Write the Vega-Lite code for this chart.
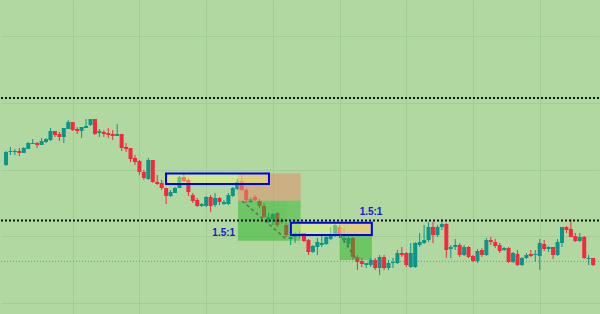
{
  "$schema": "https://vega.github.io/schema/vega-lite/v6.json",
  "width": 600,
  "height": 314,
  "autosize": {"type": "fit", "contains": "padding"},
  "padding": 0,
  "background": "#b0d8a0",
  "config": {"view": {"stroke": null, "fill": "#b0d8a0"}},
  "datasets": {
    "candles": [
      {"i":0,"o":1.08514,"h":1.08556,"l":1.08511,"c":1.08553},
      {"i":1,"o":1.08553,"h":1.08568,"l":1.08544,"c":1.08556},
      {"i":2,"o":1.08553,"h":1.08562,"l":1.08544,"c":1.08556},
      {"i":3,"o":1.08556,"h":1.08565,"l":1.08541,"c":1.08550},
      {"i":4,"o":1.08550,"h":1.08568,"l":1.08550,"c":1.08565},
      {"i":5,"o":1.08562,"h":1.08583,"l":1.08562,"c":1.08580},
      {"i":6,"o":1.08577,"h":1.08592,"l":1.08577,"c":1.08580},
      {"i":7,"o":1.08580,"h":1.08583,"l":1.08565,"c":1.08574},
      {"i":8,"o":1.08574,"h":1.08595,"l":1.08574,"c":1.08586},
      {"i":9,"o":1.08583,"h":1.08595,"l":1.08580,"c":1.08592},
      {"i":10,"o":1.08589,"h":1.08625,"l":1.08586,"c":1.08616},
      {"i":11,"o":1.08616,"h":1.08616,"l":1.08598,"c":1.08604},
      {"i":12,"o":1.08607,"h":1.08613,"l":1.08586,"c":1.08598},
      {"i":13,"o":1.08598,"h":1.08625,"l":1.08580,"c":1.08625},
      {"i":14,"o":1.08622,"h":1.08649,"l":1.08622,"c":1.08643},
      {"i":15,"o":1.08643,"h":1.08643,"l":1.08616,"c":1.08619},
      {"i":16,"o":1.08622,"h":1.08628,"l":1.08607,"c":1.08616},
      {"i":17,"o":1.08616,"h":1.08628,"l":1.08595,"c":1.08628},
      {"i":18,"o":1.08625,"h":1.08652,"l":1.08625,"c":1.08631},
      {"i":19,"o":1.08634,"h":1.08652,"l":1.08631,"c":1.08652},
      {"i":20,"o":1.08652,"h":1.08652,"l":1.08604,"c":1.08607},
      {"i":21,"o":1.08610,"h":1.08622,"l":1.08598,"c":1.08616},
      {"i":22,"o":1.08613,"h":1.08619,"l":1.08598,"c":1.08607},
      {"i":23,"o":1.08610,"h":1.08625,"l":1.08595,"c":1.08604},
      {"i":24,"o":1.08607,"h":1.08619,"l":1.08589,"c":1.08601},
      {"i":25,"o":1.08601,"h":1.08637,"l":1.08601,"c":1.08607},
      {"i":26,"o":1.08607,"h":1.08607,"l":1.08556,"c":1.08565},
      {"i":27,"o":1.08568,"h":1.08580,"l":1.08553,"c":1.08562},
      {"i":28,"o":1.08565,"h":1.08565,"l":1.08523,"c":1.08532},
      {"i":29,"o":1.08535,"h":1.08544,"l":1.08514,"c":1.08523},
      {"i":30,"o":1.08526,"h":1.08529,"l":1.08484,"c":1.08493},
      {"i":31,"o":1.08493,"h":1.08499,"l":1.08469,"c":1.08475},
      {"i":32,"o":1.08472,"h":1.08535,"l":1.08469,"c":1.08529},
      {"i":33,"o":1.08529,"h":1.08529,"l":1.08460,"c":1.08463},
      {"i":34,"o":1.08463,"h":1.08484,"l":1.08454,"c":1.08457},
      {"i":35,"o":1.08460,"h":1.08469,"l":1.08439,"c":1.08445},
      {"i":36,"o":1.08445,"h":1.08445,"l":1.08397,"c":1.08421},
      {"i":37,"o":1.08421,"h":1.08439,"l":1.08418,"c":1.08433},
      {"i":38,"o":1.08430,"h":1.08448,"l":1.08430,"c":1.08445},
      {"i":39,"o":1.08445,"h":1.08481,"l":1.08445,"c":1.08478},
      {"i":40,"o":1.08478,"h":1.08487,"l":1.08463,"c":1.08466},
      {"i":41,"o":1.08469,"h":1.08475,"l":1.08421,"c":1.08433},
      {"i":42,"o":1.08424,"h":1.08430,"l":1.08400,"c":1.08406},
      {"i":43,"o":1.08409,"h":1.08415,"l":1.08388,"c":1.08391},
      {"i":44,"o":1.08391,"h":1.08400,"l":1.08388,"c":1.08397},
      {"i":45,"o":1.08391,"h":1.08421,"l":1.08388,"c":1.08418},
      {"i":46,"o":1.08418,"h":1.08424,"l":1.08373,"c":1.08391},
      {"i":47,"o":1.08394,"h":1.08430,"l":1.08388,"c":1.08415},
      {"i":48,"o":1.08415,"h":1.08418,"l":1.08394,"c":1.08403},
      {"i":49,"o":1.08397,"h":1.08409,"l":1.08394,"c":1.08403},
      {"i":50,"o":1.08397,"h":1.08430,"l":1.08394,"c":1.08424},
      {"i":51,"o":1.08421,"h":1.08448,"l":1.08418,"c":1.08445},
      {"i":52,"o":1.08442,"h":1.08472,"l":1.08439,"c":1.08463},
      {"i":53,"o":1.08466,"h":1.08484,"l":1.08436,"c":1.08439},
      {"i":54,"o":1.08439,"h":1.08445,"l":1.08400,"c":1.08409},
      {"i":55,"o":1.08403,"h":1.08418,"l":1.08400,"c":1.08412},
      {"i":56,"o":1.08418,"h":1.08424,"l":1.08406,"c":1.08409},
      {"i":57,"o":1.08406,"h":1.08412,"l":1.08385,"c":1.08391},
      {"i":58,"o":1.08391,"h":1.08400,"l":1.08355,"c":1.08358},
      {"i":59,"o":1.08343,"h":1.08370,"l":1.08340,"c":1.08358},
      {"i":60,"o":1.08352,"h":1.08370,"l":1.08334,"c":1.08367},
      {"i":61,"o":1.08370,"h":1.08373,"l":1.08328,"c":1.08334},
      {"i":62,"o":1.08343,"h":1.08355,"l":1.08337,"c":1.08349},
      {"i":63,"o":1.08334,"h":1.08340,"l":1.08298,"c":1.08304},
      {"i":64,"o":1.08292,"h":1.08310,"l":1.08274,"c":1.08298},
      {"i":65,"o":1.08298,"h":1.08313,"l":1.08280,"c":1.08310},
      {"i":66,"o":1.08304,"h":1.08319,"l":1.08295,"c":1.08310},
      {"i":67,"o":1.08310,"h":1.08310,"l":1.08283,"c":1.08286},
      {"i":68,"o":1.08289,"h":1.08292,"l":1.08244,"c":1.08253},
      {"i":69,"o":1.08253,"h":1.08274,"l":1.08250,"c":1.08271},
      {"i":70,"o":1.08268,"h":1.08295,"l":1.08244,"c":1.08283},
      {"i":71,"o":1.08274,"h":1.08304,"l":1.08268,"c":1.08280},
      {"i":72,"o":1.08277,"h":1.08301,"l":1.08274,"c":1.08298},
      {"i":73,"o":1.08292,"h":1.08328,"l":1.08289,"c":1.08307},
      {"i":74,"o":1.08304,"h":1.08340,"l":1.08298,"c":1.08334},
      {"i":75,"o":1.08328,"h":1.08334,"l":1.08295,"c":1.08301},
      {"i":76,"o":1.08289,"h":1.08325,"l":1.08280,"c":1.08295},
      {"i":77,"o":1.08277,"h":1.08310,"l":1.08268,"c":1.08295},
      {"i":78,"o":1.08295,"h":1.08298,"l":1.08229,"c":1.08238},
      {"i":79,"o":1.08238,"h":1.08244,"l":1.08199,"c":1.08223},
      {"i":80,"o":1.08226,"h":1.08235,"l":1.08208,"c":1.08217},
      {"i":81,"o":1.08214,"h":1.08220,"l":1.08205,"c":1.08220},
      {"i":82,"o":1.08214,"h":1.08235,"l":1.08208,"c":1.08229},
      {"i":83,"o":1.08229,"h":1.08235,"l":1.08199,"c":1.08205},
      {"i":84,"o":1.08205,"h":1.08244,"l":1.08184,"c":1.08238},
      {"i":85,"o":1.08238,"h":1.08244,"l":1.08199,"c":1.08205},
      {"i":86,"o":1.08205,"h":1.08229,"l":1.08199,"c":1.08220},
      {"i":87,"o":1.08220,"h":1.08235,"l":1.08205,"c":1.08223},
      {"i":88,"o":1.08220,"h":1.08259,"l":1.08217,"c":1.08250},
      {"i":89,"o":1.08250,"h":1.08268,"l":1.08238,"c":1.08244},
      {"i":90,"o":1.08250,"h":1.08253,"l":1.08208,"c":1.08214},
      {"i":91,"o":1.08208,"h":1.08280,"l":1.08205,"c":1.08250},
      {"i":92,"o":1.08208,"h":1.08283,"l":1.08205,"c":1.08280},
      {"i":93,"o":1.08274,"h":1.08310,"l":1.08268,"c":1.08283},
      {"i":94,"o":1.08280,"h":1.08334,"l":1.08277,"c":1.08289},
      {"i":95,"o":1.08289,"h":1.08343,"l":1.08283,"c":1.08328},
      {"i":96,"o":1.08328,"h":1.08343,"l":1.08280,"c":1.08304},
      {"i":97,"o":1.08304,"h":1.08334,"l":1.08298,"c":1.08328},
      {"i":98,"o":1.08328,"h":1.08352,"l":1.08319,"c":1.08337},
      {"i":99,"o":1.08337,"h":1.08340,"l":1.08235,"c":1.08259},
      {"i":100,"o":1.08262,"h":1.08274,"l":1.08235,"c":1.08268},
      {"i":101,"o":1.08268,"h":1.08292,"l":1.08259,"c":1.08274},
      {"i":102,"o":1.08274,"h":1.08280,"l":1.08238,"c":1.08244},
      {"i":103,"o":1.08244,"h":1.08274,"l":1.08241,"c":1.08268},
      {"i":104,"o":1.08268,"h":1.08271,"l":1.08235,"c":1.08238},
      {"i":105,"o":1.08241,"h":1.08244,"l":1.08223,"c":1.08226},
      {"i":106,"o":1.08226,"h":1.08262,"l":1.08220,"c":1.08256},
      {"i":107,"o":1.08259,"h":1.08265,"l":1.08238,"c":1.08244},
      {"i":108,"o":1.08244,"h":1.08295,"l":1.08241,"c":1.08289},
      {"i":109,"o":1.08289,"h":1.08298,"l":1.08274,"c":1.08283},
      {"i":110,"o":1.08283,"h":1.08292,"l":1.08265,"c":1.08271},
      {"i":111,"o":1.08274,"h":1.08280,"l":1.08250,"c":1.08256},
      {"i":112,"o":1.08259,"h":1.08268,"l":1.08256,"c":1.08265},
      {"i":113,"o":1.08265,"h":1.08268,"l":1.08220,"c":1.08223},
      {"i":114,"o":1.08223,"h":1.08253,"l":1.08220,"c":1.08250},
      {"i":115,"o":1.08247,"h":1.08259,"l":1.08211,"c":1.08214},
      {"i":116,"o":1.08214,"h":1.08238,"l":1.08211,"c":1.08235},
      {"i":117,"o":1.08235,"h":1.08250,"l":1.08232,"c":1.08244},
      {"i":118,"o":1.08247,"h":1.08259,"l":1.08238,"c":1.08241},
      {"i":119,"o":1.08244,"h":1.08259,"l":1.08223,"c":1.08247},
      {"i":120,"o":1.08241,"h":1.08292,"l":1.08199,"c":1.08280},
      {"i":121,"o":1.08277,"h":1.08289,"l":1.08256,"c":1.08262},
      {"i":122,"o":1.08262,"h":1.08271,"l":1.08253,"c":1.08268},
      {"i":123,"o":1.08268,"h":1.08268,"l":1.08232,"c":1.08244},
      {"i":124,"o":1.08244,"h":1.08292,"l":1.08241,"c":1.08283},
      {"i":125,"o":1.08280,"h":1.08328,"l":1.08268,"c":1.08328},
      {"i":126,"o":1.08328,"h":1.08331,"l":1.08310,"c":1.08319},
      {"i":127,"o":1.08322,"h":1.08352,"l":1.08298,"c":1.08298},
      {"i":128,"o":1.08301,"h":1.08310,"l":1.08283,"c":1.08286},
      {"i":129,"o":1.08286,"h":1.08310,"l":1.08283,"c":1.08298},
      {"i":130,"o":1.08298,"h":1.08301,"l":1.08232,"c":1.08235},
      {"i":131,"o":1.08232,"h":1.08244,"l":1.08214,"c":1.08235},
      {"i":132,"o":1.08235,"h":1.08235,"l":1.08211,"c":1.08214}
    ],
    "zones": [
      {"kind":"stop","x1":52.15,"x2":66.25,"y1":1.084885,"y2":1.084069},
      {"kind":"target hit","x1":52.15,"x2":63.17,"y1":1.084069,"y2":1.082869},
      {"kind":"target","x1":63.17,"x2":66.25,"y1":1.084069,"y2":1.082869},
      {"kind":"stop","x1":75.02,"x2":82.25,"y1":1.083409,"y2":1.08304},
      {"kind":"target hit","x1":75.02,"x2":82.25,"y1":1.08304,"y2":1.08229}
    ],
    "boxes": [
      {"x1":35.98,"x2":59.12,"y1":1.084885,"y2":1.08457},
      {"x1":64.05,"x2":82.25,"y1":1.083409,"y2":1.08304}
    ],
    "levels": [
      {"price":1.08715},
      {"price":1.083475}
    ],
    "paths": [
      {"x1":53.1,"y1":1.08406,"x2":63.24,"y2":1.08289},
      {"x1":75.13,"y1":1.08304,"x2":78.88,"y2":1.08229}
    ],
    "labels": [
      {"x":48.96,"y":1.083115,"label":"1.5:1"},
      {"x":82.07,"y":1.08374,"label":"1.5:1"}
    ]
  },
  "layer": [
    {
      "data": {"values": [{"price": 1.08225}]},
      "mark": {"type": "rule", "color": "#3f9f8a", "strokeDash": [1, 2], "strokeWidth": 1, "opacity": 0.8},
      "encoding": {
        "y": {
          "field": "price", "type": "quantitative",
          "scale": {"domain": [1.08067, 1.09009], "nice": false, "zero": false},
          "axis": {"values": [1.081, 1.082, 1.083, 1.084, 1.085, 1.086, 1.087, 1.088, 1.089, 1.09], "labels": false, "ticks": false, "domain": false, "title": null, "gridColor": "#a2cc93", "gridWidth": 1}
        }
      }
    },
    {
      "data": {"name": "candles"},
      "mark": {"type": "rule", "strokeWidth": 1},
      "encoding": {
        "x": {
          "field": "i", "type": "quantitative",
          "scale": {"domain": [0, 132.2], "nice": false, "zero": false},
          "axis": {"values": [15, 30, 45, 60, 75, 90, 105, 120], "labels": false, "ticks": false, "domain": false, "title": null, "gridColor": "#a2cc93", "gridWidth": 1}
        },
        "y": {"field": "l", "type": "quantitative"},
        "y2": {"field": "h"},
        "color": {"condition": {"test": "datum.c >= datum.o", "value": "#0c958a"}, "value": "#f5283d"}
      }
    },
    {
      "data": {"name": "candles"},
      "mark": {"type": "bar", "size": 4},
      "encoding": {
        "x": {"field": "i", "type": "quantitative"},
        "y": {"field": "o", "type": "quantitative"},
        "y2": {"field": "c"},
        "color": {"condition": {"test": "datum.c >= datum.o", "value": "#0c958a"}, "value": "#f5283d"}
      }
    },
    {
      "data": {"name": "zones"},
      "mark": {"type": "rect"},
      "encoding": {
        "x": {"field": "x1", "type": "quantitative"},
        "x2": {"field": "x2"},
        "y": {"field": "y1", "type": "quantitative"},
        "y2": {"field": "y2"},
        "color": {"field": "kind", "type": "nominal", "scale": {"domain": ["stop", "target hit", "target"], "range": ["#e0906a", "#28b428", "#28b428"]}, "legend": null},
        "opacity": {"field": "kind", "type": "nominal", "scale": {"domain": ["stop", "target hit", "target"], "range": [0.55, 0.45, 0.2]}, "legend": null}
      }
    },
    {
      "data": {"name": "boxes"},
      "mark": {"type": "rect", "fill": "#ffff78", "fillOpacity": 0.38, "stroke": "#0000f0", "strokeWidth": 2},
      "encoding": {
        "x": {"field": "x1", "type": "quantitative"},
        "x2": {"field": "x2"},
        "y": {"field": "y1", "type": "quantitative"},
        "y2": {"field": "y2"}
      }
    },
    {
      "data": {"name": "paths"},
      "mark": {"type": "rule", "color": "#666666", "strokeDash": [3, 3], "strokeWidth": 1.5},
      "encoding": {
        "x": {"field": "x1", "type": "quantitative"},
        "x2": {"field": "x2"},
        "y": {"field": "y1", "type": "quantitative"},
        "y2": {"field": "y2"}
      }
    },
    {
      "data": {"name": "levels"},
      "mark": {"type": "rule", "color": "#111111", "strokeDash": [2, 2], "strokeWidth": 2},
      "encoding": {
        "y": {"field": "price", "type": "quantitative"}
      }
    },
    {
      "data": {"name": "labels"},
      "mark": {"type": "text", "font": "Liberation Sans", "fontSize": 10, "fontWeight": "bold", "color": "#1a1ad0", "align": "center", "baseline": "middle"},
      "encoding": {
        "x": {"field": "x", "type": "quantitative"},
        "y": {"field": "y", "type": "quantitative"},
        "text": {"field": "label"}
      }
    }
  ]
}
